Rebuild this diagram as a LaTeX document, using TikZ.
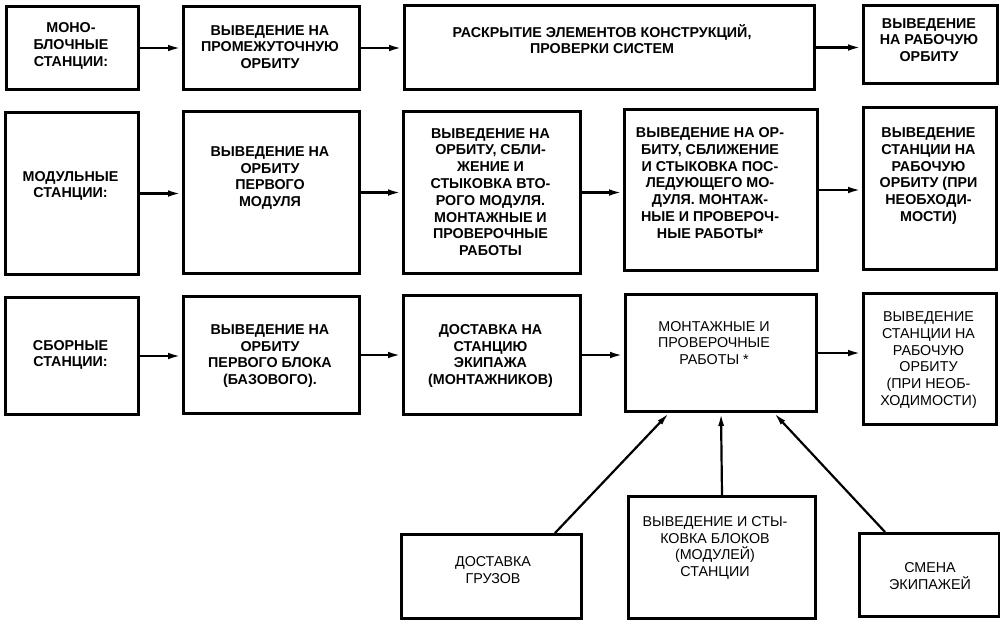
\documentclass[tikz,border=0pt]{standalone}
\usepackage{fontspec}
\setmainfont{Liberation Sans}
\usetikzlibrary{arrows.meta,calc}
\tikzset{
  box/.style={draw, line width=3pt, inner sep=0pt, anchor=north west},
  txt/.style={align=center, font=\fontsize{14.3}{16.8}\selectfont\bfseries, inner sep=0pt},
  txtl/.style={txt, font=\fontsize{14.3}{16.8}\selectfont},
  arr/.style={line width=2.6pt, -{Latex[length=14pt,width=6.5pt]}},
  arrthin/.style={line width=2.2pt, -{Latex[length=13pt,width=6pt]}},
}
\newcommand\mybox[5]{\node[box, minimum width={#3-#1}, minimum height={#4-#2}] (#5) at (#1,#2) {};}
\begin{document}
\begin{tikzpicture}[x=1pt,y=-1pt]
\useasboundingbox (0,0) rectangle (1000,625);
% row 1
\mybox{5}{5}{137}{88}{a1}
\mybox{182}{5}{358}{88}{a2}
\mybox{403}{4}{813}{88}{a3}
\mybox{862}{4}{996}{82}{a4}
\node[txt] (a1t) at (71,46) {МОНО-\\БЛОЧНЫЕ\\СТАНЦИИ:};
\node[txt] (a2t) at (270,47) {ВЫВЕДЕНИЕ НА\\ПРОМЕЖУТОЧНУЮ\\ОРБИТУ};
\node[txt] (a3t) at (602,39) {РАСКРЫТИЕ ЭЛЕМЕНТОВ КОНСТРУКЦИЙ,\\ПРОВЕРКИ СИСТЕМ};
\node[txt] (a4t) at (929,40) {ВЫВЕДЕНИЕ\\НА РАБОЧУЮ\\ОРБИТУ};
% row 2
\mybox{4}{111}{137}{273}{b1}
\mybox{182}{110}{358}{272}{b2}
\mybox{402}{110}{579}{272}{b3}
\mybox{623}{108}{816}{269}{b4}
\mybox{862}{106}{995}{268}{b5}
\node[txt] (b1t) at (70.5,186) {МОДУЛЬНЫЕ\\СТАНЦИИ:};
\node[txt] (b2t) at (270,178) {ВЫВЕДЕНИЕ НА\\ОРБИТУ\\ПЕРВОГО\\МОДУЛЯ};
\node[txt] (b3t) at (490.5,192) {ВЫВЕДЕНИЕ НА\\ОРБИТУ, СБЛИ-\\ЖЕНИЕ И\\СТЫКОВКА ВТО-\\РОГО МОДУЛЯ.\\МОНТАЖНЫЕ И\\ПРОВЕРОЧНЫЕ\\РАБОТЫ};
\node[txt] (b4t) at (710,183) {ВЫВЕДЕНИЕ НА ОР-\\БИТУ, СБЛИЖЕНИЕ\\И СТЫКОВКА ПОС-\\ЛЕДУЮЩЕГО МО-\\ДУЛЯ. МОНТАЖ-\\НЫЕ И ПРОВЕРОЧ-\\НЫЕ РАБОТЫ*};
\node[txt] (b5t) at (928.5,176) {ВЫВЕДЕНИЕ\\СТАНЦИИ НА\\РАБОЧУЮ\\ОРБИТУ (ПРИ\\НЕОБХОДИ-\\МОСТИ)};
% row 3
\mybox{4}{296}{137}{413}{c1}
\mybox{182}{295}{358}{412}{c2}
\mybox{402}{294}{579}{413}{c3}
\mybox{624}{293}{815}{410}{c4}
\mybox{862}{292}{995}{423}{c5}
\node[txt] (c1t) at (70.5,355) {СБОРНЫЕ\\СТАНЦИИ:};
\node[txt] (c2t) at (270,356) {ВЫВЕДЕНИЕ НА\\ОРБИТУ\\ПЕРВОГО БЛОКА\\(БАЗОВОГО).};
\node[txt] (c3t) at (490.5,356) {ДОСТАВКА НА\\СТАНЦИЮ\\ЭКИПАЖА\\(МОНТАЖНИКОВ)};
\node[txtl] (c4t) at (714,343) {МОНТАЖНЫЕ И\\ПРОВЕРОЧНЫЕ\\РАБОТЫ *};
\node[txtl] (c5t) at (928.5,360) {ВЫВЕДЕНИЕ\\СТАНЦИИ НА\\РАБОЧУЮ\\ОРБИТУ\\(ПРИ НЕОБ-\\ХОДИМОСТИ)};
% row 4
\mybox{400}{533}{580}{617}{d1}
\mybox{627}{495}{814}{617}{d2}
\mybox{858}{532}{998}{615}{d3}
\node[txtl] (d1t) at (493,570) {ДОСТАВКА\\ГРУЗОВ};
\node[txtl] (d2t) at (715,548) {ВЫВЕДЕНИЕ И СТЫ-\\КОВКА БЛОКОВ\\(МОДУЛЕЙ)\\СТАНЦИИ};
\node[txtl] (d3t) at (930,576) {СМЕНА\\ЭКИПАЖЕЙ};
% connectors
\draw[arr] (a1.east) -- (a1.east -| a2.west);
\draw[arr] (a2.east) -- (a2.east -| a3.west);
\draw[arr] (a3.east) -- (a3.east -| a4.west);
\draw[arr] (b1.east) -- (b1.east -| b2.west);
\draw[arr] (b2.east) -- (b2.east -| b3.west);
\draw[arr] (b3.east) -- (b3.east -| b4.west);
\draw[arr] (b4.east) -- (b4.east -| b5.west);
\draw[arr] (c1.east) -- (c1.east -| c2.west);
\draw[arr] (c2.east) -- (c2.east -| c3.west);
\draw[arr] (c3.east) -- (c3.east -| c4.west);
\draw[arr] (c4.east) -- (c4.east -| c5.west);
\draw[arrthin] ($(d1.north east)+(-28,0)$) -- ($(c4.south)+(-52,0)$);
\draw[arrthin] (d2.north) -- (c4.south);
\draw[arrthin] ($(d3.north west)+(27,0)$) -- ($(c4.south)+(53,0)$);
\end{tikzpicture}
\end{document}
